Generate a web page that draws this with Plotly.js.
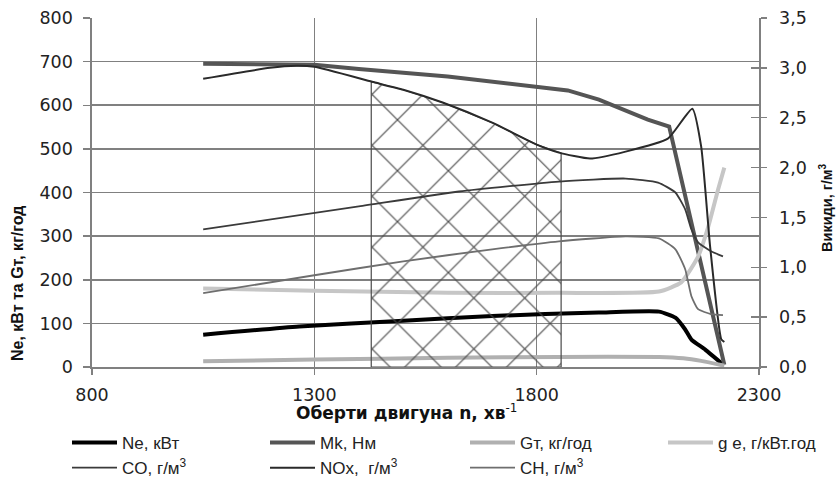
<!DOCTYPE html>
<html>
<head>
<meta charset="utf-8">
<script src="https://cdn.plot.ly/plotly-3.0.1.min.js"></script>
<style>html,body{margin:0;padding:0;background:#fff;}#chart{width:836px;height:486px;}</style>
</head>
<body>
<div id="chart"></div>
<script>
// ---- data ----
// engine speed, min^-1 ; left axis: Ne (kW), Mk (N·m), Gт (kg/h), g e ; right axis: emissions g/m3
const neX  = [1050, 1266, 1500, 1700, 1940, 2075, 2112, 2134, 2148, 2179, 2220];
const neY  = [74, 93, 106, 117, 125, 127, 113, 86, 63, 40, 5];

const mkX  = [1050, 1300, 1400, 1600, 1870, 1940, 2050, 2098, 2222];
const mkY  = [695, 693, 683, 666, 634, 613, 567, 551, 5];

const gtX  = [1050, 1300, 1600, 1850, 2075, 2130, 2170, 2222];
const gtY  = [13, 17, 21, 23, 23, 20, 14, 3];

const geX  = [1050, 1300, 1600, 1850, 2075, 2125, 2163, 2186, 2208, 2222];
const geY  = [180, 175, 170, 170, 173, 194, 253, 322, 407, 457];

const coX  = [1050, 1400, 1625, 1850, 2000, 2073, 2112, 2134, 2148, 2163, 2192, 2219];
const coY  = [1.38, 1.61, 1.76, 1.86, 1.89, 1.85, 1.75, 1.58, 1.38, 1.25, 1.16, 1.11];

const noxX = [1050, 1200, 1260, 1300, 1430, 1500, 1590, 1700, 1800, 1850, 1920, 2000, 2095, 2150, 2170, 2190, 2215, 2222];
const noxY = [2.89, 3.00, 3.02, 3.01, 2.86, 2.78, 2.65, 2.45, 2.23, 2.15, 2.09, 2.16, 2.29, 2.59, 2.21, 1.21, 0.28, 0.25];

const chX  = [1050, 1300, 1500, 1700, 1850, 2000, 2075, 2112, 2134, 2148, 2163, 2192, 2219];
const chY  = [0.74, 0.92, 1.06, 1.18, 1.26, 1.31, 1.29, 1.18, 0.98, 0.71, 0.58, 0.53, 0.52];

// hatched operating zone (rpm bounds), under the NOx curve
const zoneRange = [1428, 1855];

const names = ["Ne, кВт", "Mk, Нм", "Gт, кг/год", "g e, г/кВт.год",
               "CO, г/м<sup>3</sup>", "NOx,  г/м<sup>3</sup>", "CH, г/м<sup>3</sup>"];

const xTitle  = "<b>Оберти двигуна n, хв</b><sup>-1</sup>";
const yTitle  = "<b>Ne, кВт та Gт, кг/год</b>";
const y2Title = "<b>Викиди, г/м<sup>3</sup></b>";

// ---- build zone polygon from NOx curve ----
function interp(xs, ys, x) {
  for (let i = 0; i < xs.length - 1; i++) {
    if (x >= xs[i] && x <= xs[i + 1]) {
      const t = (x - xs[i]) / (xs[i + 1] - xs[i]);
      return ys[i] + t * (ys[i + 1] - ys[i]);
    }
  }
  return ys[ys.length - 1];
}
const zx = [zoneRange[0]], zy = [0];
zx.push(zoneRange[0]); zy.push(interp(noxX, noxY, zoneRange[0]));
noxX.forEach((x, i) => { if (x > zoneRange[0] && x < zoneRange[1]) { zx.push(x); zy.push(noxY[i]); } });
zx.push(zoneRange[1]); zy.push(interp(noxX, noxY, zoneRange[1]));
zx.push(zoneRange[1]); zy.push(0);
zx.push(zoneRange[0]); zy.push(0);

const FONT = "Liberation Sans, Arial, sans-serif";
const TICKFONT = { family: "DejaVu Sans, sans-serif", size: 17.5, color: "#222" };
const LEGFONT = { family: "Liberation Sans, Arial, sans-serif", size: 17, color: "#222" };

const traces = [
  { x: zx, y: zy, yaxis: "y2", type: "scatter", mode: "lines", fill: "toself",
    line: { color: "#4a4a4a", width: 1.2 }, fillcolor: "rgba(0,0,0,0)",
    fillpattern: { shape: "x", size: 36, solidity: 0.065, fgcolor: "#4a4a4a", bgcolor: "rgba(0,0,0,0)" },
    showlegend: false, hoverinfo: "skip" },
  { x: neX, y: neY, name: names[0], legend: "legend", mode: "lines", line: { color: "#000", width: 4, shape: "spline", smoothing: 0.5 } },
  { x: mkX, y: mkY, name: names[1], legend: "legend2", mode: "lines", line: { color: "#555", width: 4 } },
  { x: gtX, y: gtY, name: names[2], legend: "legend3", mode: "lines", line: { color: "#b0b0b0", width: 4, shape: "spline", smoothing: 0.5 } },
  { x: geX, y: geY, name: names[3], legend: "legend4", mode: "lines", line: { color: "#c6c6c6", width: 4, shape: "spline", smoothing: 0.5 } },
  { x: coX, y: coY, name: names[4], legend: "legend", yaxis: "y2", mode: "lines", line: { color: "#3a3a3a", width: 1.8, shape: "spline", smoothing: 0.5 } },
  { x: noxX, y: noxY, name: names[5], legend: "legend2", yaxis: "y2", mode: "lines", line: { color: "#2a2a2a", width: 2, shape: "spline", smoothing: 0.5 } },
  { x: chX, y: chY, name: names[6], legend: "legend3", yaxis: "y2", mode: "lines", line: { color: "#6e6e6e", width: 1.8, shape: "spline", smoothing: 0.5 } },
  // invisible point so the inner tick axis on the right is drawn
  { x: [2300], y: [0], yaxis: "y3", mode: "markers", marker: { opacity: 0, size: 1 }, showlegend: false, hoverinfo: "skip" }
];

const gridC = "#808080";
function leg(xPx) {
  return {
    orientation: "v", xref: "container", yref: "container",
    x: xPx / 836, xanchor: "left", y: 1 - 425 / 486, yanchor: "top",
    itemwidth: 45, font: LEGFONT, bgcolor: "rgba(0,0,0,0)", borderwidth: 0, tracegroupgap: 0
  };
}

const layout = {
  width: 836, height: 486,
  margin: { l: 92, r: 77, t: 18, b: 119, autoexpand: false },
  paper_bgcolor: "#fff", plot_bgcolor: "#fff",
  separators: ", ",
  font: { family: FONT, size: 16, color: "#222" },
  showlegend: true,
  xaxis: {
    range: [800, 2300], tick0: 800, dtick: 500, tickformat: "d", tickangle: 0,
    showgrid: true, gridcolor: gridC, gridwidth: 1.6,
    showline: true, linecolor: gridC, linewidth: 1.6,
    ticks: "outside", ticklen: 6, tickcolor: gridC, tickwidth: 1.5,
    ticklabelstandoff: 5,
    zeroline: false, automargin: false,
    tickfont: TICKFONT
  },
  yaxis: {
    range: [0, 800], dtick: 100, tickformat: "d",
    showgrid: true, gridcolor: gridC, gridwidth: 1.6,
    showline: true, linecolor: gridC, linewidth: 1.6,
    ticks: "outside", ticklen: 7, tickcolor: gridC, tickwidth: 1.5,
    ticklabelstandoff: 7,
    zeroline: false, automargin: false,
    tickfont: TICKFONT
  },
  yaxis2: {
    overlaying: "y", side: "right",
    range: [0, 3.5], dtick: 0.5, tickformat: ".1f",
    showgrid: false, zeroline: false,
    showline: true, linecolor: gridC, linewidth: 1.6,
    ticks: "outside", ticklen: 6, tickcolor: gridC, tickwidth: 1.5,
    ticklabelstandoff: 9, automargin: false,
    tickfont: TICKFONT
  },
  yaxis3: {
    overlaying: "y", side: "right", anchor: "x",
    range: [0, 3.5], dtick: 0.5,
    showgrid: false, zeroline: false, showline: false, showticklabels: false,
    ticks: "inside", ticklen: 8, tickcolor: gridC, tickwidth: 1.5, automargin: false
  },
  legend: leg(67),
  legend2: leg(265),
  legend3: leg(465),
  legend4: leg(663),
  annotations: [
    { text: xTitle, xref: "paper", yref: "paper", x: (406 - 92) / 667, y: -(412 - 367) / 349,
      xanchor: "center", yanchor: "middle", showarrow: false,
      font: { family: "DejaVu Sans, sans-serif", size: 17, color: "#111" } },
    { text: yTitle, xref: "paper", yref: "paper", x: (17 - 92) / 667, y: (367 - 284) / 349,
      xanchor: "center", yanchor: "middle", showarrow: false, textangle: -90,
      font: { family: FONT, size: 16, color: "#111" } },
    { text: y2Title, xref: "paper", yref: "paper", x: (826 - 92) / 667, y: (367 - 208) / 349,
      xanchor: "center", yanchor: "middle", showarrow: false, textangle: -90,
      font: { family: FONT, size: 14.5, color: "#111" } }
  ]
};

Plotly.newPlot("chart", traces, layout, { staticPlot: true, displayModeBar: false });
</script>
</body>
</html>
